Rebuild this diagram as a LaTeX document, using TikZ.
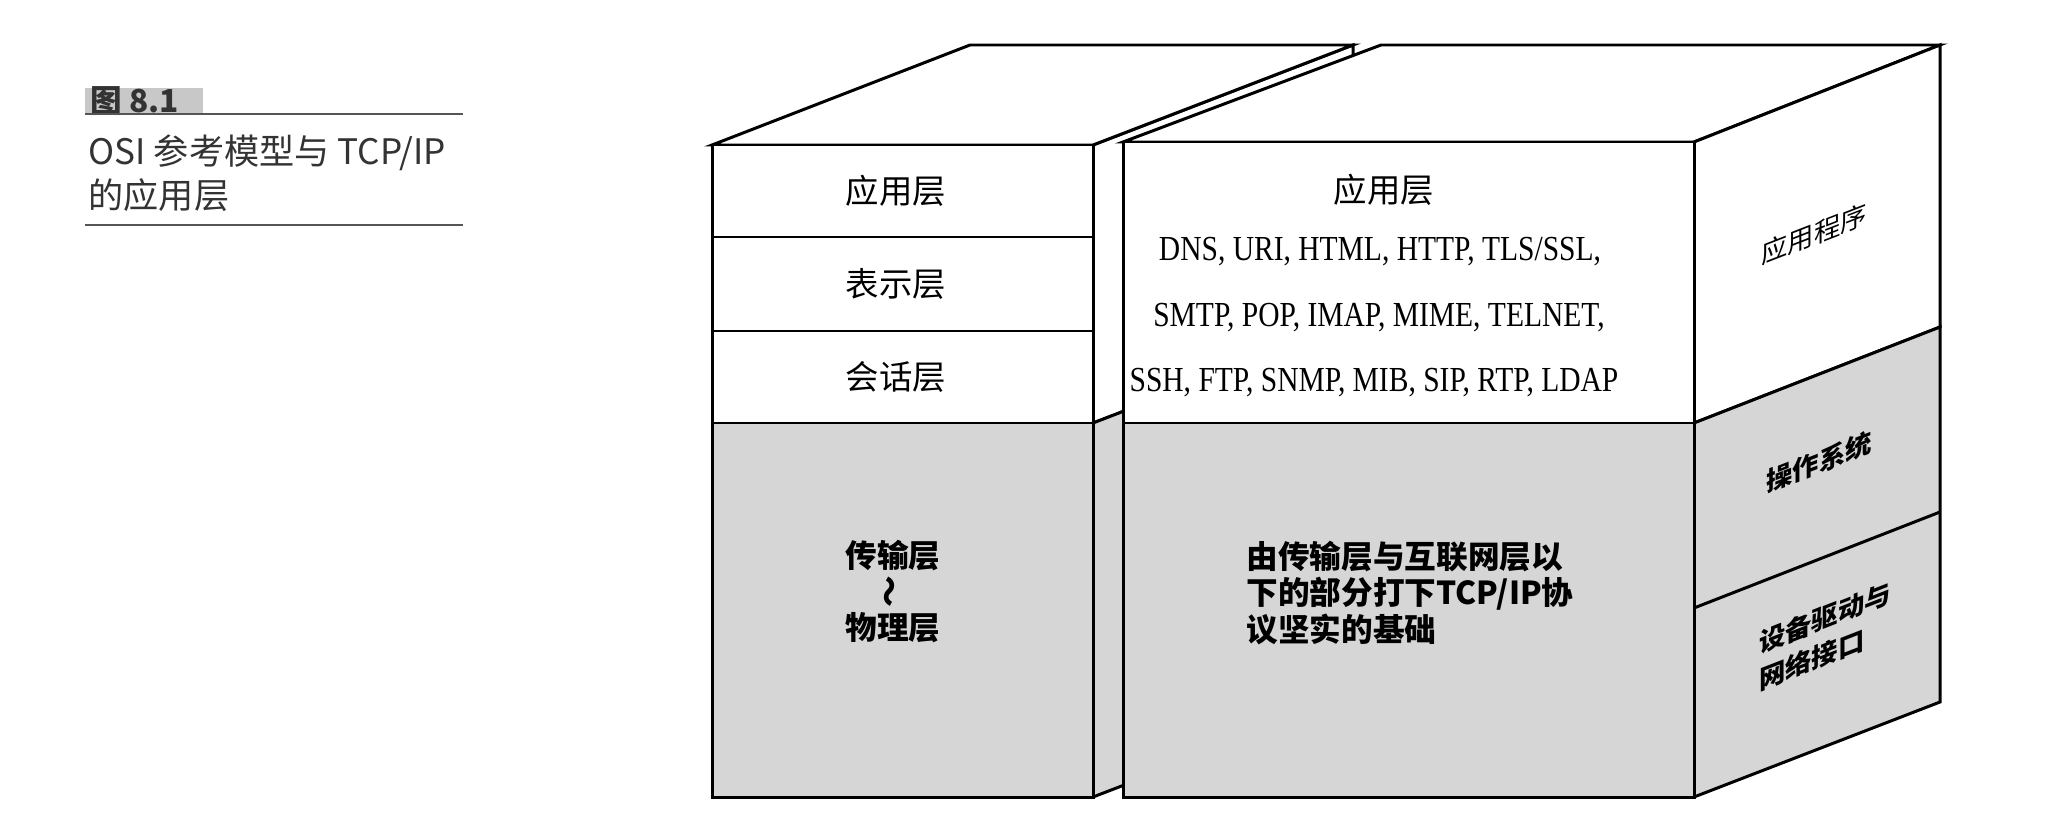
\documentclass[tikz,border=0pt]{standalone}
\usepackage{fontspec}
\setmainfont{Liberation Serif}
\newfontfamily\cjk{Noto Sans CJK SC}
\newfontfamily\protofont[FakeStretch=0.84]{Liberation Serif}
\definecolor{layergray}{RGB}{214,214,214}
\definecolor{tabgray}{RGB}{200,200,200}
\definecolor{rulegray}{RGB}{85,85,85}
\newcommand{\capline}[1]{\draw[rulegray,line width=0.7pt] (85,#1) -- (463,#1);}
\tikzset{
  boxline/.style={draw=black,line width=0.85pt,line join=miter},
  whiteface/.style={boxline,fill=white},
  grayface/.style={boxline,fill=layergray},
  songlabel/.style={font=\cjk\fontsize{9.5}{11}\selectfont,inner sep=0pt},
  heilabel/.style={font=\cjk\bfseries\fontsize{9}{10.3}\selectfont,inner sep=0pt},
  protolabel/.style={font=\protofont\fontsize{10}{12}\selectfont,inner sep=0pt},
  sidelabel/.style={font=\cjk\fontsize{7.5}{10.5}\selectfont,inner sep=0pt,yslant=0.39},
  sidebold/.style={sidelabel,font=\cjk\bfseries\fontsize{7.5}{10.5}\selectfont},
  captext/.style={font=\cjk\fontsize{10}{12}\selectfont,text=black!80,inner sep=0pt,anchor=west},
}

\begin{document}
\begin{tikzpicture}[x=0.1mm,y=-0.1mm]
\useasboundingbox (0,0) rectangle (2062,828);
% caption
\fill[tabgray] (85,88) rectangle (203,113);
\node[captext,font=\cjk\bfseries\fontsize{9}{11}\selectfont] (figtag) at (90,101) {图 8.1};
\capline{114}\capline{225}
\node[captext] (figtitle) at (88,153) {OSI 参考模型与 TCP/IP};
\node[captext] (figtitlemore) at (88,195) {的应用层};
% OSI block
\draw[whiteface] (1093,145) -- (1353,45) -- (1353,323) -- (1093,423) -- cycle;
\draw[grayface] (1093,423) -- (1353,323) -- (1353,697) -- (1093,797) -- cycle;
\draw[whiteface] (712,145) -- (970,45) -- (1353,45) -- (1093,145) -- cycle;
\draw[whiteface] (712,145) rectangle (1093,423);
\draw[grayface] (712,423) rectangle (1093,797);
\draw[boxline] (712,237) -- (1093,237) (712,331) -- (1093,331);
\node[songlabel] (osiapp) at (896,191) {应用层};
\node[songlabel] (osipres) at (896,284) {表示层};
\node[songlabel] (osisess) at (896,377) {会话层};
\node[heilabel] (ositrans) at (893,556) {传输层};
\node[heilabel,rotate=90] (ositilde) at (893,592) {～};
\node[heilabel] (osiphys) at (893,628) {物理层};
% TCP/IP block
\draw[whiteface] (1123,142) -- (1381,45) -- (1940,45) -- (1694,142) -- cycle;
\draw[whiteface] (1694,142) -- (1940,45) -- (1940,327) -- (1694,423) -- cycle;
\draw[grayface] (1694,423) -- (1940,327) -- (1940,702) -- (1694,797) -- cycle;
\draw[boxline] (1694,608) -- (1940,512);
\draw[whiteface] (1123,142) rectangle (1694,423);
\draw[grayface] (1123,423) rectangle (1694,797);
\node[songlabel] (tcpapp) at (1384,190) {应用层};
\node[protolabel] (protoweb) at (1380,252) {DNS, URI, HTML, HTTP, TLS/SSL,};
\node[protolabel] (protomail) at (1379,318) {SMTP, POP, IMAP, MIME, TELNET,};
\node[protolabel] (protomgmt) at (1374,383) {SSH, FTP, SNMP, MIB, SIP, RTP, LDAP};
\node[heilabel,anchor=west,align=left] (tcplow) at (1246,593)
  {由传输层与互联网层以\\下的部分打下TCP/IP协\\议坚实的基础};
\node[sidelabel] (sideapp) at (1814,234) {应用程序};
\node[sidebold] (sideos) at (1819,462) {操作系统};
\node[sidebold,align=left] (sidedev) at (1825,636) {设备驱动与\\网络接口};
\end{tikzpicture}
\end{document}
